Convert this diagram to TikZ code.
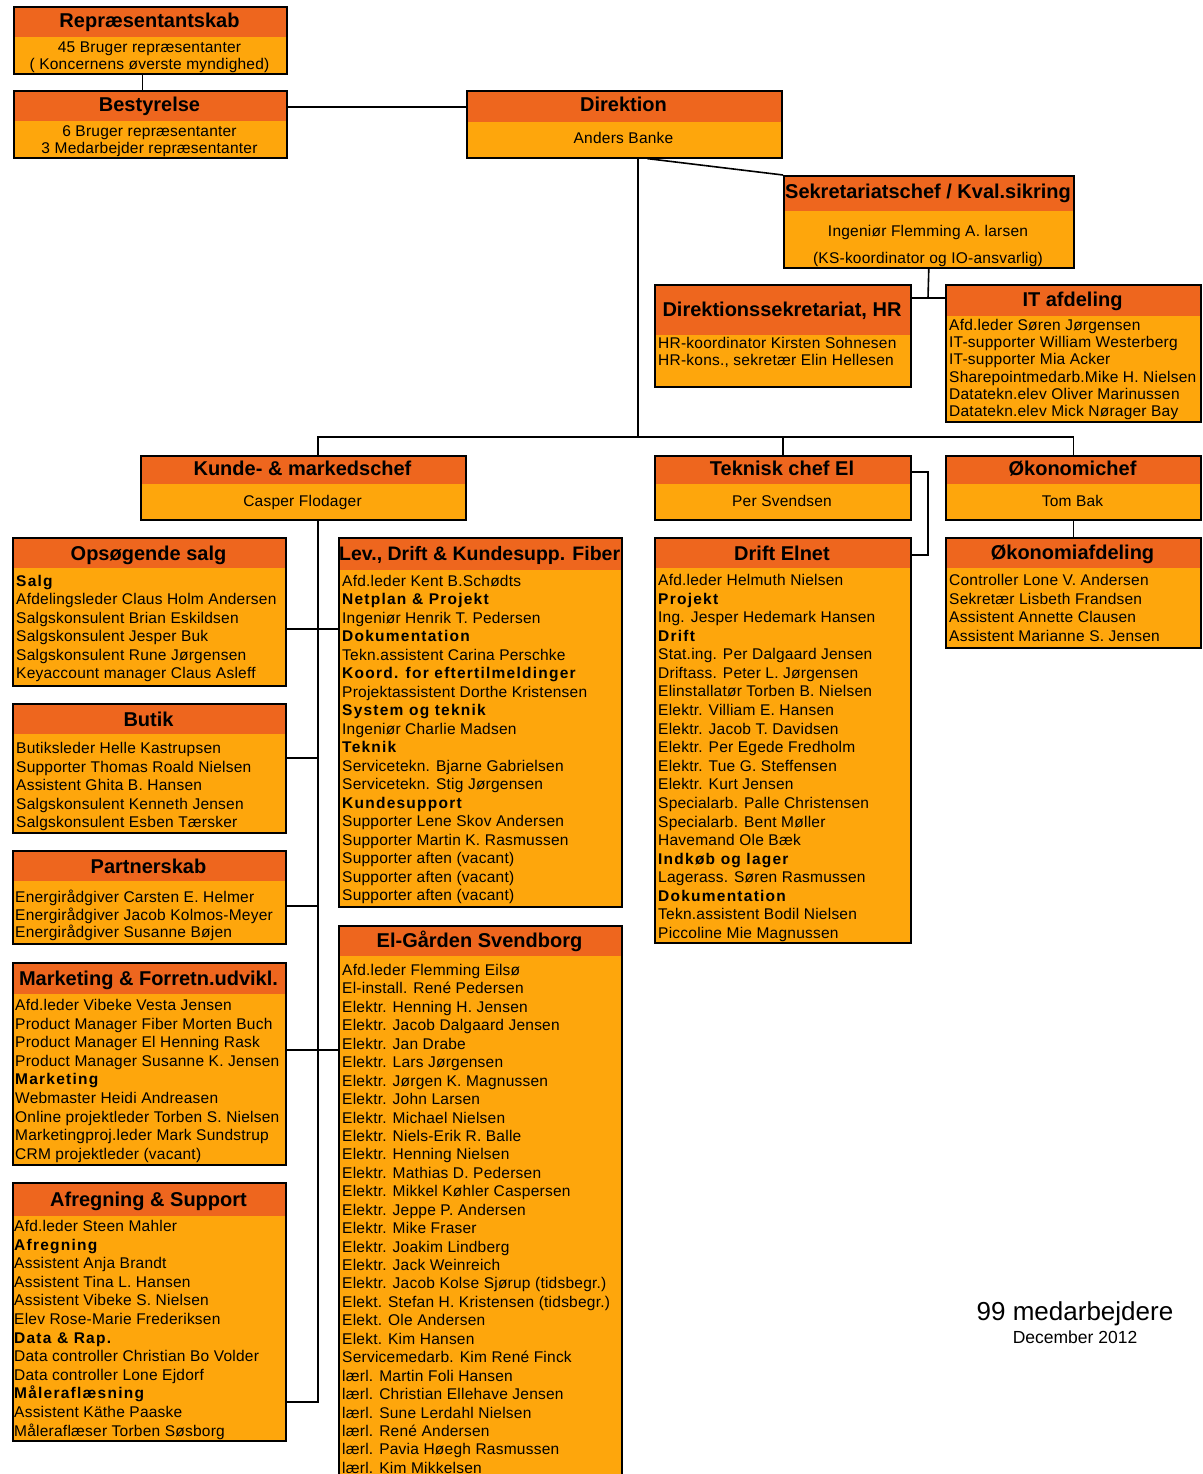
\documentclass[tikz,border=0pt]{standalone}
\usepackage{fontspec}
\setmainfont{Liberation Sans}
\definecolor{heador}{RGB}{238,102,30}
\definecolor{bodyor}{RGB}{254,166,12}
\newcommand\grp[1]{{\bfseries\addfontfeature{LetterSpace=8}#1}}
\begin{document}
\begin{tikzpicture}[x=1pt,y=-1pt,
  panel/.style={draw=black, line width=1.6pt, fill=bodyor, anchor=north west, inner sep=0pt,
    path picture={\fill[heador] (path picture bounding box.north west) rectangle ([yshift=-#1]path picture bounding box.north east);}},
  headline/.style={font=\bfseries\fontsize{20}{24}\selectfont, inner sep=0pt, anchor=base, yshift=-7pt},
  entry/.style={font=\fontsize{15.5}{18}\selectfont\addfontfeature{LetterSpace=1.5}, inner sep=0pt, anchor=base west, yshift=-5.5pt},
  person/.style={font=\fontsize{15.5}{18}\selectfont\addfontfeature{LetterSpace=1.5}, inner sep=0pt, anchor=base, yshift=-6pt},
  wire/.style={line width=1.6pt}]
\useasboundingbox (0,0) rectangle (1202,1474);

\node[panel=30pt, minimum width=273pt, minimum height=67pt] (rep) at (13,6) {};
\node[panel=30pt, minimum width=273pt, minimum height=67pt] (best) at (13,90) {};
\node[panel=31pt, minimum width=315pt, minimum height=67pt] (dir) at (466,90) {};
\node[panel=35pt, minimum width=290pt, minimum height=92pt] (sek) at (783,175) {};
\node[panel=50pt, minimum width=256pt, minimum height=102pt] (hr) at (654,284) {};
\node[panel=31pt, minimum width=255pt, minimum height=137pt] (it) at (945,284) {};
\node[panel=28pt, minimum width=325pt, minimum height=64pt] (kunde) at (140,455) {};
\node[panel=28pt, minimum width=256pt, minimum height=64pt] (tek) at (654,455) {};
\node[panel=28pt, minimum width=255pt, minimum height=64pt] (okc) at (945,455) {};
\node[panel=30pt, minimum width=273pt, minimum height=148pt] (ops) at (12,537) {};
\node[panel=32pt, minimum width=283pt, minimum height=369pt] (lev) at (338,537) {};
\node[panel=30pt, minimum width=256pt, minimum height=405pt] (drift) at (654,537) {};
\node[panel=30pt, minimum width=255pt, minimum height=110pt] (oka) at (945,537) {};
\node[panel=30pt, minimum width=273pt, minimum height=129pt] (butik) at (12,703) {};
\node[panel=30pt, minimum width=273pt, minimum height=93pt] (partner) at (12,850) {};
\node[panel=30pt, minimum width=283pt, minimum height=560pt] (elg) at (338,925) {};
\node[panel=31pt, minimum width=273pt, minimum height=202pt] (mark) at (12,962) {};
\node[panel=33pt, minimum width=273pt, minimum height=258pt] (afr) at (12,1182) {};

\node[headline] (repT) at (149.5,21) {Repræsentantskab};
\node[person] (repA) at (149.5,47) {45 Bruger repræsentanter};
\node[person] (repB) at (149.5,64) {( Koncernens øverste myndighed)};
\node[headline] (bestT) at (149.5,105) {Bestyrelse};
\node[person] (bestA) at (149.5,131) {6 Bruger repræsentanter};
\node[person] (bestB) at (149.5,148) {3 Medarbejder repræsentanter};
\node[headline] (dirT) at (623.5,105) {Direktion};
\node[person] (dirA) at (623.5,138) {Anders Banke};
\node[headline] (sekT) at (928,192) {Sekretariatschef / Kval.sikring};
\node[person] (sekA) at (928,230) {Ingeniør Flemming A. larsen};
\node[person] (sekB) at (928,257) {(KS-koordinator og IO-ansvarlig)};
\node[headline] (hrT) at (782,309) {Direktionssekretariat, HR};
\node[headline] (itT) at (1072.5,299) {IT afdeling};
\node[headline] (kundeT) at (302.5,468) {Kunde- \& markedschef};
\node[person] (kundeA) at (302.5,500) {Casper Flodager};
\node[headline] (tekT) at (782,468) {Teknisk chef El};
\node[person] (tekA) at (782,500) {Per Svendsen};
\node[headline] (okcT) at (1072.5,468) {Økonomichef};
\node[person] (okcA) at (1072.5,500) {Tom Bak};
\node[headline] (opsT) at (148.5,553) {Opsøgende salg};
\node[headline, anchor=base west, font=\bfseries\fontsize{19.5}{24}\selectfont] (levT) at (339,553) {Lev., Drift \& Kundesupp. Fiber};
\node[headline] (driftT) at (782,553) {Drift Elnet};
\node[headline] (okaT) at (1072.5,552) {Økonomiafdeling};
\node[headline] (butikT) at (148.5,719) {Butik};
\node[headline] (partnerT) at (148.5,866) {Partnerskab};
\node[headline] (elgT) at (479.5,940) {El-Gården Svendborg};
\node[headline] (markT) at (148.5,978) {Marketing \& Forretn.udvikl.};
\node[headline] (afrT) at (148.5,1199) {Afregning \& Support};

\foreach \t [count=\i] in {HR-koordinator Kirsten Sohnesen, {HR-kons., sekretær Elin Hellesen}}
  \node[entry] (hr\i) at (658,{343+17*(\i-1)}) {\t};
\foreach \t [count=\i] in {Afd.leder Søren Jørgensen, IT-supporter William Westerberg, IT-supporter Mia Acker,
  Sharepointmedarb.Mike H. Nielsen, Datatekn.elev Oliver Marinussen, Datatekn.elev Mick Nørager Bay}
  \node[entry] (it\i) at (949,{325+17.2*(\i-1)}) {\t};
\foreach \t [count=\i] in {\grp{Salg}, Afdelingsleder Claus Holm Andersen, Salgskonsulent Brian Eskildsen,
  Salgskonsulent Jesper Buk, Salgskonsulent Rune Jørgensen, Keyaccount manager Claus Asleff}
  \node[entry] (ops\i) at (16,{581+18.4*(\i-1)}) {\t};
\foreach \t [count=\i] in {Afd.leder Kent B.Schødts, \grp{Netplan \& Projekt}, Ingeniør Henrik T. Pedersen,
  \grp{Dokumentation}, Tekn.assistent Carina Perschke, \grp{Koord. for eftertilmeldinger},
  Projektassistent Dorthe Kristensen, \grp{System og teknik}, Ingeniør Charlie Madsen, \grp{Teknik},
  Servicetekn. Bjarne Gabrielsen, Servicetekn. Stig Jørgensen, \grp{Kundesupport},
  Supporter Lene Skov Andersen, Supporter Martin K. Rasmussen, Supporter aften (vacant),
  Supporter aften (vacant), Supporter aften (vacant)}
  \node[entry] (lev\i) at (342,{581+18.47*(\i-1)}) {\t};
\foreach \t [count=\i] in {Afd.leder Helmuth Nielsen, \grp{Projekt}, Ing. Jesper Hedemark Hansen, \grp{Drift},
  Stat.ing. Per Dalgaard Jensen, Driftass. Peter L. Jørgensen, Elinstallatør Torben B. Nielsen,
  Elektr. Villiam E. Hansen, Elektr. Jacob T. Davidsen, Elektr. Per Egede Fredholm,
  Elektr. Tue G. Steffensen, Elektr. Kurt Jensen, Specialarb. Palle Christensen,
  Specialarb. Bent Møller, Havemand Ole Bæk, \grp{Indkøb og lager}, Lagerass. Søren Rasmussen,
  \grp{Dokumentation}, Tekn.assistent Bodil Nielsen, Piccoline Mie Magnussen}
  \node[entry] (drift\i) at (658,{580+18.58*(\i-1)}) {\t};
\foreach \t [count=\i] in {Controller Lone V. Andersen, Sekretær Lisbeth Frandsen,
  Assistent Annette Clausen, Assistent Marianne S. Jensen}
  \node[entry] (oka\i) at (949,{580+18.7*(\i-1)}) {\t};
\foreach \t [count=\i] in {Butiksleder Helle Kastrupsen, Supporter Thomas Roald Nielsen, Assistent Ghita B. Hansen,
  Salgskonsulent Kenneth Jensen, Salgskonsulent Esben Tærsker}
  \node[entry] (butik\i) at (16,{748+18.5*(\i-1)}) {\t};
\foreach \t [count=\i] in {Energirådgiver Carsten E. Helmer, Energirådgiver Jacob Kolmos-Meyer,
  Energirådgiver Susanne Bøjen}
  \node[entry] (partner\i) at (15,{897+17.5*(\i-1)}) {\t};
\foreach \t [count=\i] in {Afd.leder Vibeke Vesta Jensen, Product Manager Fiber Morten Buch,
  Product Manager El Henning Rask, Product Manager Susanne K. Jensen, \grp{Marketing},
  Webmaster Heidi Andreasen, Online projektleder Torben S. Nielsen,
  Marketingproj.leder Mark Sundstrup, CRM projektleder (vacant)}
  \node[entry] (mark\i) at (15,{1005+18.6*(\i-1)}) {\t};
\foreach \t [count=\i] in {Afd.leder Steen Mahler, \grp{Afregning}, Assistent Anja Brandt, Assistent Tina L. Hansen,
  Assistent Vibeke S. Nielsen, Elev Rose-Marie Frederiksen, \grp{Data \& Rap.},
  Data controller Christian Bo Volder, Data controller Lone Ejdorf, \grp{Måleraflæsning},
  Assistent Käthe Paaske, Måleraflæser Torben Søsborg}
  \node[entry] (afr\i) at (14,{1226+18.6*(\i-1)}) {\t};
\foreach \t [count=\i] in {Afd.leder Flemming Eilsø, El-install. René Pedersen, Elektr. Henning H. Jensen,
  Elektr. Jacob Dalgaard Jensen, Elektr. Jan Drabe, Elektr. Lars Jørgensen, Elektr. Jørgen K. Magnussen,
  Elektr. John Larsen, Elektr. Michael Nielsen, Elektr. Niels-Erik R. Balle, Elektr. Henning Nielsen,
  Elektr. Mathias D. Pedersen, Elektr. Mikkel Køhler Caspersen, Elektr. Jeppe P. Andersen,
  Elektr. Mike Fraser, Elektr. Joakim Lindberg, Elektr. Jack Weinreich,
  Elektr. Jacob Kolse Sjørup (tidsbegr.), Elekt. Stefan H. Kristensen (tidsbegr.), Elekt. Ole Andersen,
  Elekt. Kim Hansen, Servicemedarb. Kim René Finck, lærl. Martin Foli Hansen,
  lærl. Christian Ellehave Jensen, lærl. Sune Lerdahl Nielsen, lærl. René Andersen,
  lærl. Pavia Høegh Rasmussen, lærl. Kim Mikkelsen}
  \node[entry] (elg\i) at (342,{970+18.44*(\i-1)}) {\t};

\coordinate (hub) at (638,437);
\coordinate (spine) at (318,437);
\coordinate (spineEnd) at (318,1402);
\coordinate (sekJ) at (928,298);
\coordinate (tekA) at (928,472);
\coordinate (tekB) at (928,555);
\coordinate (rowOps) at (318,629);
\coordinate (rowButik) at (318,758);
\coordinate (rowPartner) at (318,906);
\coordinate (rowMark) at (318,1050);

\draw[wire] ([xshift=-8pt]rep.south) -- ([xshift=-8pt]best.north);
\draw[wire] ([yshift=-17pt]best.north east) -- ([yshift=-17pt]dir.north west);
\draw[wire] ([xshift=23pt]dir.south) -- (sek.north west);
\draw[wire] (sek.south) -- (sekJ);
\draw[wire] (hr.east |- sekJ) -- (it.west |- sekJ);
\draw[wire] (dir.south -| hub) -- (hub);
\draw[wire] (spine |- kunde.north) -- (spine) -- (hub -| okc.north) -- (okc.north);
\draw[wire] (hub -| tek.north) -- (tek.north);
\draw[wire] (tek.east |- tekA) -- (tekA) -- (tekB) -- (drift.east |- tekB);
\draw[wire] (okc.south) -- (oka.north);
\draw[wire] (spine |- kunde.south) -- (spineEnd) -- (afr.east |- spineEnd);
\draw[wire] (ops.east |- rowOps) -- (lev.west |- rowOps);
\draw[wire] (butik.east |- rowButik) -- (rowButik);
\draw[wire] (partner.east |- rowPartner) -- (rowPartner);
\draw[wire] (mark.east |- rowMark) -- (elg.west |- rowMark);

\node[font=\fontsize{26}{30}\selectfont, inner sep=0pt, anchor=base, yshift=-9pt] (staff) at (1075,1311) {99 medarbejdere};
\node[font=\fontsize{17.5}{20}\selectfont, inner sep=0pt, anchor=base, yshift=-6pt] (stamp) at (1075,1337) {December 2012};
\end{tikzpicture}
\end{document}
